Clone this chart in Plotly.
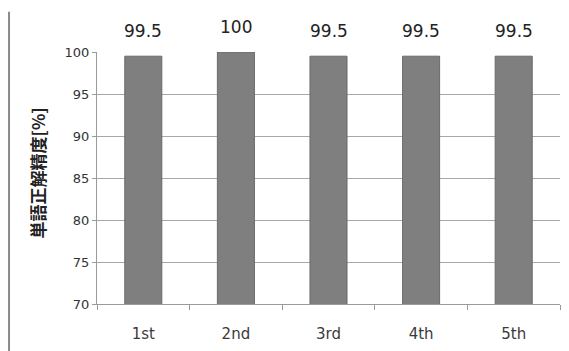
import plotly.graph_objects as go

# Word recognition accuracy per trial
trials = ["1st", "2nd", "3rd", "4th", "5th"]
accuracy = [99.5, 100, 99.5, 99.5, 99.5]
y_ticks = [70, 75, 80, 85, 90, 95, 100]

fig = go.Figure(
    go.Bar(
        x=trials,
        y=accuracy,
        marker=dict(color="#7f7f7f", line=dict(color="#6a6a6a", width=1)),
        width=0.4,
        hoverinfo="skip",
    )
)

# value labels above each bar
for cat, val in zip(trials, accuracy):
    fig.add_annotation(
        x=cat, y=val, xref="x", yref="y",
        text=f"{val:g}", showarrow=False,
        yanchor="middle", yshift=25,
        font=dict(family="DejaVu Sans", size=17, color="#222222"),
    )

# rotated y-axis title
fig.add_annotation(
    x=0, y=0.518, xref="paper", yref="paper",
    text="<b>単語正解精度[%]</b>", textangle=-90, showarrow=False,
    xanchor="center", yanchor="middle", xshift=-60,
    font=dict(family="Noto Sans CJK JP", size=17, color="#222222"),
)

# outer chart frame edge on the left
fig.add_shape(
    type="line", xref="paper", yref="paper",
    x0=-0.19, x1=-0.19, y0=-0.2, y1=1.16,
    line=dict(color="#8a8a8a", width=2),
)

fig.update_layout(
    width=569, height=351,
    margin=dict(l=97, r=9, t=52, b=47),
    paper_bgcolor="white", plot_bgcolor="white",
    showlegend=False,
    bargap=0.6,
)

fig.update_xaxes(
    type="category",
    showline=True, linecolor="#9a9a9a", linewidth=1,
    ticks="outside", tickson="boundaries", ticklen=5, tickcolor="#9a9a9a",
    ticklabelstandoff=16,
    tickfont=dict(family="DejaVu Sans", size=15, color="#3a3a3a"),
    showgrid=False,
)
fig.update_yaxes(
    range=[70, 100], tickvals=y_ticks,
    showline=True, linecolor="#9a9a9a", linewidth=1,
    ticks="outside", ticklen=4, tickcolor="#9a9a9a",
    tickfont=dict(family="DejaVu Sans", size=13, color="#333333"),
    showgrid=True, gridcolor="#a8a8a8", gridwidth=1,
    zeroline=False,
)

fig.write_html("out.html")
